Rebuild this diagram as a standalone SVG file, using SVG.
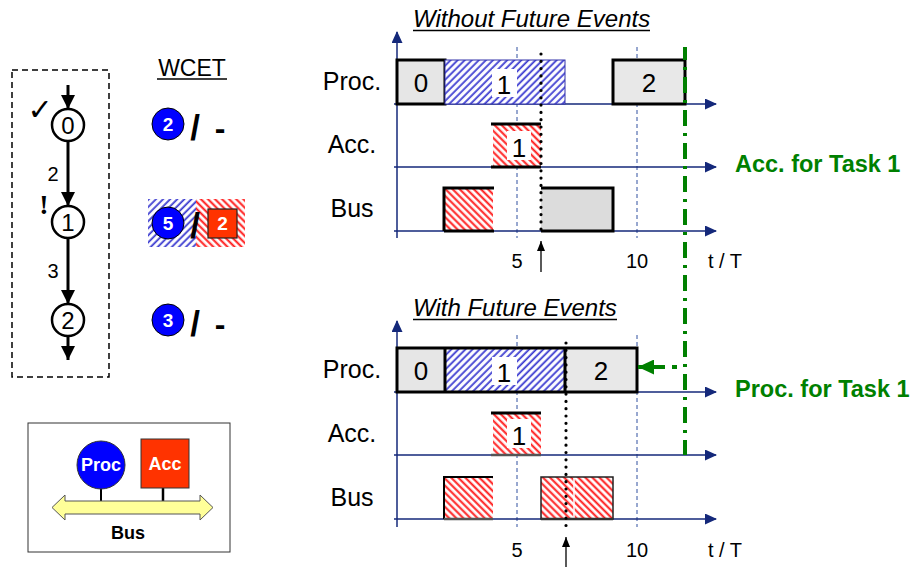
<svg xmlns="http://www.w3.org/2000/svg" width="917" height="567" viewBox="0 0 917 567">
<style>
text{font-family:"Liberation Sans",Arial,sans-serif;fill:#000}
.ttl{font-size:24px;font-style:italic}
.lab{font-size:25px;text-anchor:middle}
.num{font-size:26px;text-anchor:middle}
.tick{font-size:20px;text-anchor:middle}
.ax{stroke:#14287a;stroke-width:1.5;fill:none}
.axa{stroke:#14287a;stroke-width:1.5;fill:none;marker-end:url(#axh)}
.grid{stroke:#3050a0;stroke-width:1;stroke-dasharray:4 3}
.dot{stroke:#000;stroke-width:3.2;stroke-linecap:round;stroke-dasharray:0 7.3}
.thk{stroke:#000;stroke-width:3;fill:none}
.grey{fill:#e6e6e6}
.green{fill:#008000;font-size:23.5px;font-weight:bold}
.wc{fill:#fff;font-size:19px;font-weight:bold;text-anchor:middle}
.sl{font-size:35px;font-weight:bold;text-anchor:middle}
.da{font-size:32px;font-weight:bold;text-anchor:middle}
.edge{stroke:#000;stroke-width:3;fill:none;marker-end:url(#gh)}
.node{fill:#fff;stroke:#000;stroke-width:2.5}
.nt{font-size:24px;text-anchor:middle}
.el{font-size:20px;text-anchor:middle}
</style>
<defs>
<pattern id="hb" patternUnits="userSpaceOnUse" width="5" height="5" patternTransform="rotate(45)">
<rect width="5" height="5" fill="#fff"/>
<line x1="1.2" y1="0" x2="1.2" y2="5" stroke="#3a3ad0" stroke-width="1.8"/>
</pattern>
<pattern id="hr" patternUnits="userSpaceOnUse" width="5" height="5" patternTransform="rotate(-45)">
<rect width="5" height="5" fill="#fff"/>
<line x1="1.3" y1="0" x2="1.3" y2="5" stroke="#ff1a1a" stroke-width="2"/>
</pattern>
<marker id="axh" viewBox="0 0 12 11" refX="11" refY="5.5" markerWidth="12" markerHeight="11" markerUnits="userSpaceOnUse" orient="auto">
<path d="M0,0 L12,5.5 L0,11 z" fill="#14287a"/>
</marker>
<marker id="gh" viewBox="0 0 14 14" refX="14" refY="7" markerWidth="14" markerHeight="14" markerUnits="userSpaceOnUse" orient="auto">
<path d="M0,0 L14,7 L0,14 z" fill="#000"/>
</marker>
<marker id="sh" viewBox="0 0 10 8" refX="10" refY="4" markerWidth="10" markerHeight="8" markerUnits="userSpaceOnUse" orient="auto">
<path d="M0,0 L10,4 L0,8 z" fill="#000"/>
</marker>
<marker id="grh" viewBox="0 0 16 15" refX="16" refY="7.5" markerWidth="16" markerHeight="15" markerUnits="userSpaceOnUse" orient="auto">
<path d="M0,0 L16,7.5 L0,15 z" fill="#008000"/>
</marker>
</defs>
<rect width="917" height="567" fill="#fff"/>

<!-- Task graph -->
<g id="taskgraph">
<rect x="12" y="70" width="97" height="307" fill="none" stroke="#000" stroke-width="1.5" stroke-dasharray="6 4"/>
</g>
<g id="connectors">
<line class="edge" x1="68" y1="85" x2="68" y2="109"/>
<line class="edge" x1="68" y1="141" x2="68" y2="206"/>
<line class="edge" x1="68" y1="238" x2="68" y2="304"/>
<line class="edge" x1="68" y1="336" x2="68" y2="360"/>
<text class="el" x="53" y="181">2</text>
<text class="el" x="53" y="278">3</text>
</g>
<g id="node0">
<circle class="node" cx="68" cy="125" r="16"/>
<text class="nt" x="68" y="133.5">0</text>
<text x="40" y="120" style="font-family:'DejaVu Sans',sans-serif;font-size:30px;text-anchor:middle">✓</text>
</g>
<g id="node1">
<circle class="node" cx="68" cy="222" r="16"/>
<text class="nt" x="68" y="230.5">1</text>
<text x="44" y="214" style="font-family:'Liberation Serif',serif;font-size:28px;font-weight:bold;text-anchor:middle">!</text>
</g>
<g id="node2">
<circle class="node" cx="68" cy="320" r="16"/>
<text class="nt" x="68" y="328.5">2</text>
</g>

<!-- WCET -->
<g id="wcet">
<text x="192" y="76" style="font-size:23px;text-anchor:middle">WCET</text>
<line x1="157" y1="79" x2="227" y2="79" stroke="#000" stroke-width="1.5"/>
<circle cx="168" cy="124" r="16" fill="#0000ff" stroke="#000" stroke-width="1"/>
<text class="wc" x="168" y="131">2</text>
<text class="sl" x="195" y="140">/</text>
<text class="da" x="220" y="139">-</text>

<rect x="148" y="199" width="48" height="48" fill="url(#hb)"/>
<rect x="196" y="199" width="49" height="48" fill="url(#hr)"/>
<circle cx="168" cy="223" r="16" fill="#0000ff" stroke="#000" stroke-width="1"/>
<text class="wc" x="168" y="230">5</text>
<text class="sl" x="195" y="238">/</text>
<rect x="208" y="209" width="29" height="29" fill="#ff3300" stroke="#222" stroke-width="1.2"/>
<text class="wc" x="222.5" y="230">2</text>

<circle cx="168" cy="320" r="16" fill="#0000ff" stroke="#000" stroke-width="1"/>
<text class="wc" x="168" y="327">3</text>
<text class="sl" x="195" y="336">/</text>
<text class="da" x="220" y="335">-</text>
</g>

<!-- Legend -->
<g id="legend">
<rect x="28" y="423" width="202" height="129" fill="#fff" stroke="#333" stroke-width="1"/>
<line x1="101" y1="488" x2="101" y2="502" stroke="#000" stroke-width="2"/>
<line x1="163" y1="487" x2="163" y2="502" stroke="#000" stroke-width="2.5"/>
<path d="M52,507.5 L65,495 L65,501 L200,501 L200,495 L213,507.5 L200,520 L200,514 L65,514 L65,520 z" fill="#ffff99" stroke="#555" stroke-width="1"/>
<circle cx="101" cy="465" r="24" fill="#0000ff" stroke="#333" stroke-width="1"/>
<text x="101" y="471" style="fill:#fff;font-size:18px;font-weight:bold;text-anchor:middle">Proc</text>
<rect x="141" y="439" width="48" height="49" fill="#ff3300" stroke="#333" stroke-width="1"/>
<text x="165" y="470" style="fill:#fff;font-size:18px;font-weight:bold;text-anchor:middle">Acc</text>
<text x="128" y="539" style="font-size:18px;font-weight:bold;text-anchor:middle">Bus</text>
</g>

<!-- Top chart -->
<g id="chart-without">
<text class="ttl" x="413" y="27">Without Future Events</text>
<line x1="413" y1="30.5" x2="650" y2="30.5" stroke="#000" stroke-width="1.5"/>
<line class="grid" x1="517" y1="47" x2="517" y2="238"/>
<line class="grid" x1="637" y1="47" x2="637" y2="238"/>
<line class="axa" x1="397" y1="238" x2="397" y2="32"/>
<line class="axa" x1="394" y1="104" x2="716" y2="104"/>
<line class="axa" x1="394" y1="167" x2="716" y2="167"/>
<line class="axa" x1="394" y1="231" x2="716" y2="231"/>
<text class="lab" x="352" y="90">Proc.</text>
<text class="lab" x="352" y="153">Acc.</text>
<text class="lab" x="352" y="217">Bus</text>

<rect x="397" y="60" width="48" height="44" class="grey" stroke="#000" stroke-width="3"/>
<text class="num" x="421" y="92">0</text>
<rect x="445" y="60" width="120" height="44" fill="url(#hb)" stroke="#3333aa" stroke-width="1"/>
<rect x="492" y="69" width="25" height="28" fill="#fff"/>
<text class="num" x="504" y="94">1</text>
<rect x="613" y="60" width="72" height="44" fill="#e8e8e8" stroke="#000" stroke-width="3"/>
<text class="num" x="649" y="92">2</text>

<rect x="493" y="124" width="48" height="43" fill="url(#hr)"/>
<rect x="507" y="131" width="24" height="29" fill="#fff"/>
<text class="num" x="519" y="157">1</text>
<line class="thk" x1="491" y1="124" x2="541" y2="124"/>
<line class="thk" x1="491" y1="167" x2="541" y2="167"/>

<rect x="444" y="188" width="49" height="43" fill="url(#hr)"/>
<polyline class="thk" points="444,231 444,188 494,188"/>
<line class="thk" x1="444" y1="231" x2="494" y2="231"/>
<rect x="541" y="188" width="72" height="43" fill="#dcdcdc"/>
<polyline class="thk" points="541,188 613,188 613,231 541,231"/>

<line class="dot" x1="541" y1="54" x2="541" y2="236"/>
<line x1="541" y1="272" x2="541" y2="241" stroke="#000" stroke-width="1.3" marker-end="url(#sh)"/>
<text class="tick" x="517" y="268">5</text>
<text class="tick" x="637" y="268">10</text>
<text x="708" y="268" style="font-size:20px">t / T</text>
</g>

<!-- Bottom chart -->
<g id="chart-with">
<text class="ttl" x="413" y="316">With Future Events</text>
<line x1="413" y1="319.5" x2="617" y2="319.5" stroke="#000" stroke-width="1.5"/>
<line class="grid" x1="517" y1="335" x2="517" y2="527"/>
<line class="grid" x1="637" y1="335" x2="637" y2="527"/>
<line class="axa" x1="397" y1="527" x2="397" y2="321"/>
<line class="axa" x1="394" y1="392" x2="716" y2="392"/>
<line class="axa" x1="394" y1="455" x2="716" y2="455"/>
<line class="axa" x1="394" y1="519" x2="716" y2="519"/>
<text class="lab" x="352" y="378">Proc.</text>
<text class="lab" x="352" y="442">Acc.</text>
<text class="lab" x="352" y="506">Bus</text>

<rect x="397" y="348" width="48" height="44" class="grey"/>
<rect x="445" y="348" width="120" height="44" fill="url(#hb)"/>
<rect x="565" y="348" width="72" height="44" fill="#e8e8e8"/>
<rect x="397" y="348" width="240" height="44" fill="none" stroke="#000" stroke-width="3"/>
<line class="thk" x1="445" y1="348" x2="445" y2="392"/>
<line class="thk" x1="565" y1="348" x2="565" y2="392"/>
<text class="num" x="421" y="380">0</text>
<rect x="492" y="357" width="25" height="28" fill="#fff"/>
<text class="num" x="504" y="382">1</text>
<text class="num" x="601" y="380">2</text>

<rect x="493" y="413" width="48" height="42" fill="url(#hr)"/>
<rect x="507" y="419" width="24" height="29" fill="#fff"/>
<text class="num" x="519" y="445">1</text>
<line class="thk" x1="491" y1="413" x2="541" y2="413"/>
<line x1="491" y1="455" x2="541" y2="455" stroke="#555" stroke-width="2.5"/>

<rect x="444" y="477" width="49" height="42" fill="url(#hr)"/>
<polyline points="444,519 444,477 493,477" fill="none" stroke="#000" stroke-width="2"/>
<line x1="444" y1="519" x2="493" y2="519" stroke="#555" stroke-width="2.5"/>
<rect x="541" y="477" width="72" height="42" fill="url(#hr)" stroke="#222" stroke-width="1.5"/>
<line x1="574" y1="478" x2="574" y2="518" stroke="#fff" stroke-width="1.5"/>
<line x1="541" y1="519" x2="613" y2="519" stroke="#333" stroke-width="2.5"/>

<line class="dot" x1="566" y1="343" x2="566" y2="527"/>
<line x1="566" y1="567" x2="566" y2="537" stroke="#000" stroke-width="1.3" marker-end="url(#sh)"/>
<text class="tick" x="517" y="557">5</text>
<text class="tick" x="637" y="557">10</text>
<text x="708" y="557" style="font-size:20px">t / T</text>
</g>

<!-- Green markers -->
<g id="deadline">
<line x1="685" y1="47" x2="685" y2="455" stroke="#008000" stroke-width="4" stroke-dasharray="16 7 3 7" stroke-dashoffset="3"/>
<line x1="665" y1="367" x2="638" y2="367" stroke="#008000" stroke-width="4" marker-end="url(#grh)"/>
<line x1="672" y1="367" x2="677" y2="367" stroke="#008000" stroke-width="4"/>
<text class="green" x="735" y="172">Acc. for Task 1</text>
<text class="green" x="735" y="397">Proc. for Task 1</text>
</g>
</svg>
